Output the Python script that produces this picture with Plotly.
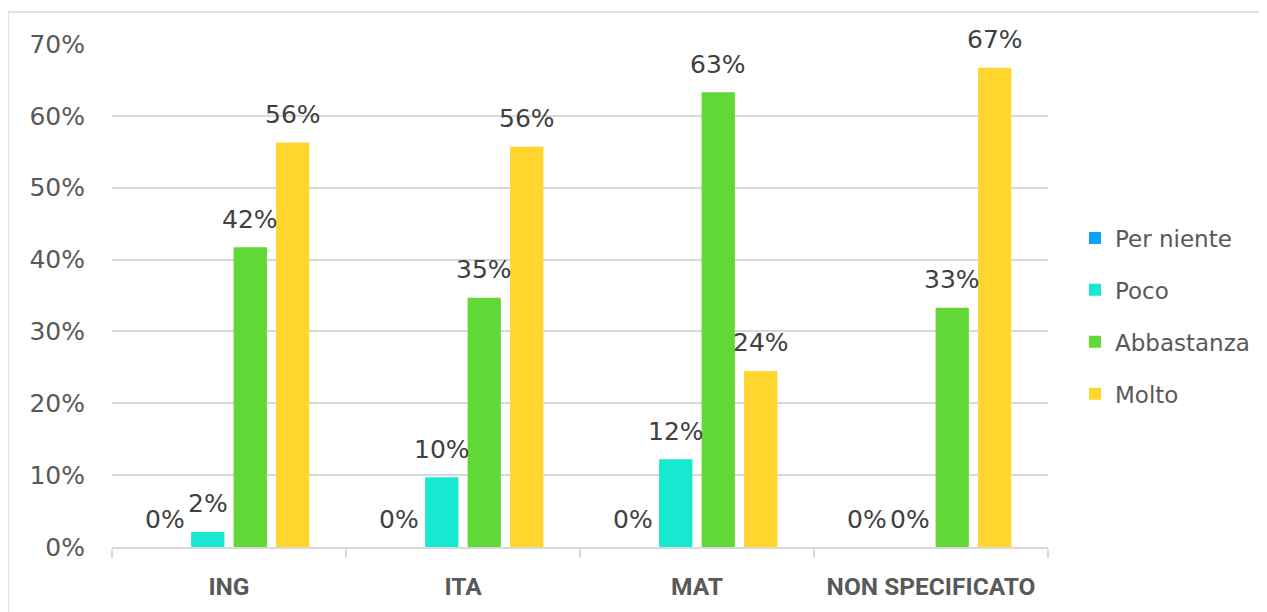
import plotly.graph_objects as go

categories = ["ING", "ITA", "MAT", "NON SPECIFICATO"]
series_names = ["Per niente", "Poco", "Abbastanza", "Molto"]
per_niente = [0.0, 0.0, 0.0, 0.0]
poco = [0.021, 0.097, 0.122, 0.0]
abbastanza = [0.417, 0.347, 0.633, 0.333]
molto = [0.563, 0.557, 0.245, 0.667]
series_values = [per_niente, poco, abbastanza, molto]
colors = ["#0AA0FF", "#17E8D0", "#62D836", "#FFD52E"]

# page body has an 8px margin, so the figure is drawn 8px in from the window edge
W, H = 1259, 604
ML, MR, MT, MB = 104, 219, 36, 65
plot_w = W - ML - MR
plot_h = H - MT - MB

bargap = 0.274
bargroupgap = 0.216

NUM_FONT = "DejaVu Sans"

fig = go.Figure()
for i, (name, vals, col) in enumerate(zip(series_names, series_values, colors)):
    fig.add_trace(go.Bar(
        x=categories, y=vals, name=name, marker=dict(color=col, line=dict(width=0)),
        legendgroup=name, hoverinfo="skip",
    ))

# data labels above bars
cat_w = plot_w / len(categories)
slot = cat_w * (1 - bargap) / len(series_names)
annotations = []
for i, vals in enumerate(series_values):
    xs = (i - (len(series_names) - 1) / 2) * slot
    for c, v in zip(categories, vals):
        annotations.append(dict(
            x=c, y=v, xref="x", yref="y", text=f"{round(v*100):.0f}%",
            showarrow=False, xshift=xs, yshift=28, yanchor="middle",
            font=dict(family=NUM_FONT, size=25, color="#404040"),
        ))

# outer chart border (top and left)
x_left = (0 - ML) / plot_w
x_right = (W - ML) / plot_w
y_top = (H - MB - 4) / plot_h
y_bot = (H - MB - H) / plot_h
shapes = [
    dict(type="line", xref="paper", yref="paper", x0=x_left, x1=x_right, y0=y_top, y1=y_top,
         line=dict(color="#D9D9D9", width=1.5)),
    dict(type="line", xref="paper", yref="paper", x0=x_left, x1=x_left, y0=y_top, y1=y_bot,
         line=dict(color="#D9D9D9", width=1.5)),
]

fig.update_layout(
    width=W, height=H,
    margin=dict(l=ML, r=MR, t=MT, b=MB),
    paper_bgcolor="white", plot_bgcolor="white",
    barmode="group", bargap=bargap, bargroupgap=bargroupgap,
    font=dict(family=NUM_FONT, color="#595959"),
    annotations=annotations, shapes=shapes,
    legend=dict(
        x=(1067 - ML) / plot_w, y=(H - MB - 308) / plot_h, xanchor="left", yanchor="middle",
        font=dict(family=NUM_FONT, size=23, color="#595959"),
        traceorder="grouped", tracegroupgap=19, itemwidth=30,
    ),
)
fig.update_yaxes(
    range=[0, 0.7], tickvals=[0, 0.1, 0.2, 0.3, 0.4, 0.5, 0.6, 0.7], tickformat=".0%",
    showgrid=True, gridcolor="#D9D9D9", gridwidth=1.5, zeroline=False, showline=False,
    tickfont=dict(family=NUM_FONT, size=25, color="#595959"), ticklabelstandoff=26,
)
fig.update_xaxes(
    showline=True, linecolor="#D9D9D9", linewidth=1.5,
    ticks="outside", tickson="boundaries", ticklen=9, tickcolor="#D9D9D9", tickwidth=1.5,
    tickfont=dict(family="Roboto", size=24.5, color="#595959", weight=700), ticklabelstandoff=17,
)

fig.write_html("out.html")
